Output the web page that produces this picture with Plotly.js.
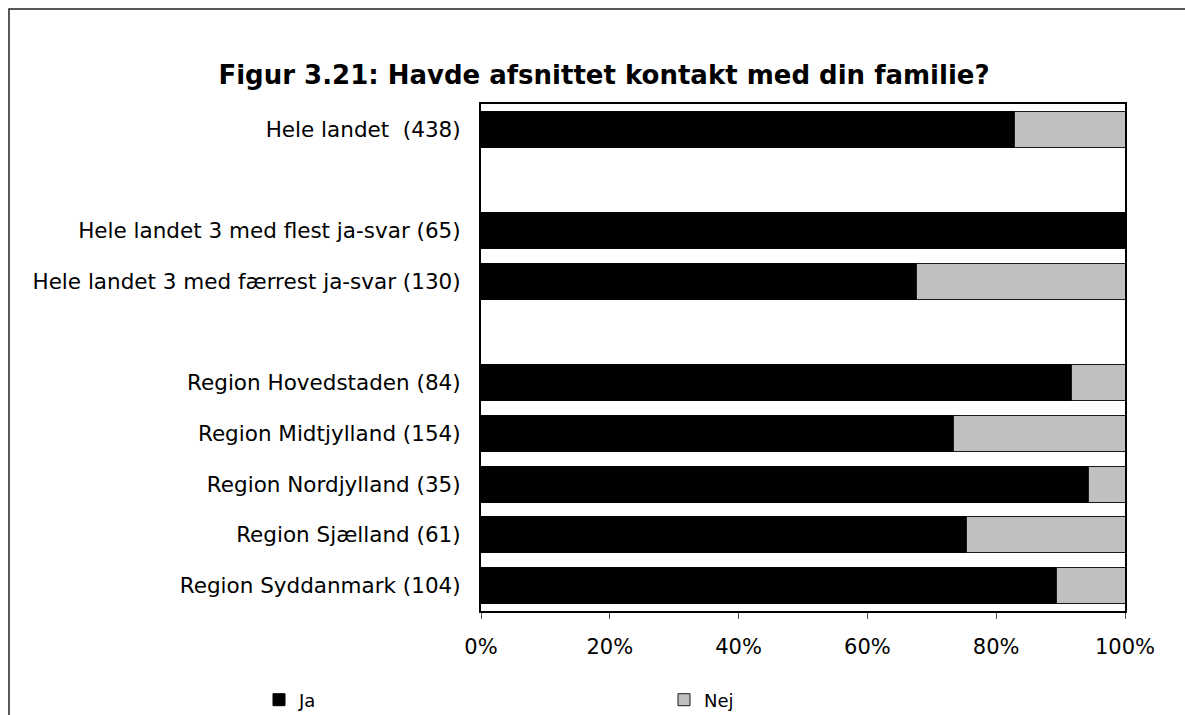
<!DOCTYPE html>
<html>
<head>
<meta charset="utf-8">
<script src="https://cdn.plot.ly/plotly-3.0.1.min.js"></script>
<style>html,body{margin:0;padding:0;background:#fff;}#chart{width:1185px;height:715px;}</style>
</head>
<body>
<div id="chart"></div>
<script>
var categories = [
  "Hele landet \u00a0(438)",
  "blank1",
  "Hele landet 3 med flest ja-svar (65)",
  "Hele landet 3 med færrest ja-svar (130)",
  "blank2",
  "Region Hovedstaden (84)",
  "Region Midtjylland (154)",
  "Region Nordjylland (35)",
  "Region Sjælland (61)",
  "Region Syddanmark (104)"
];
var yTickLabels = [
  "Hele landet \u00a0(438)",
  "Hele landet 3 med flest ja-svar (65)",
  "Hele landet 3 med færrest ja-svar (130)",
  "Region Hovedstaden (84)",
  "Region Midtjylland (154)",
  "Region Nordjylland (35)",
  "Region Sjælland (61)",
  "Region Syddanmark (104)"
];
var jaValues  = [82.9, null, 100, 67.7, null, 91.7, 73.4, 94.3, 75.4, 89.4];
var nejValues = [17.1, null, 0, 32.3, null, 8.3, 26.6, 5.7, 24.6, 10.6];
var xTickVals = [0, 20, 40, 60, 80, 100];
var xTickText = ["0%", "20%", "40%", "60%", "80%", "100%"];

var L = 481, R = 1125, T = 104, B = 611, W = 1185, H = 715;
var pw = R - L, ph = B - T;
function px2x(p){ return (p - L) / pw; }
function py2y(p){ return (B - p) / ph; }

var FONT = 'DejaVu Sans, Verdana, sans-serif';

var traces = [
  {type:'bar', orientation:'h', name:'Ja', y:categories, x:jaValues,
   marker:{color:'#000000', line:{color:'#000000', width:1}}, hoverinfo:'x+y'},
  {type:'bar', orientation:'h', name:'Nej', y:categories, x:nejValues,
   marker:{color:'#c0c0c0', line:{color:'#1a1a1a', width:1}}, hoverinfo:'x+y'}
];

var layout = {
  width:W, height:H,
  margin:{l:L, r:W-R, t:T, b:H-B, pad:0, autoexpand:false},
  paper_bgcolor:'#ffffff', plot_bgcolor:'#ffffff',
  barmode:'stack', bargap:0.29,
  font:{family:FONT, size:21, color:'#000'},
  title:{text:'Figur 3.21: Havde afsnittet kontakt med din familie?',
         font:{family:FONT, size:26, color:'#000', weight:'bold'},
         x:604/W, xanchor:'center', y:1-75/H, yanchor:'middle'},
  xaxis:{range:[0,100], tickmode:'array', tickvals:xTickVals, ticktext:xTickText,
         showgrid:false, zeroline:false, automargin:false,
         showline:true, linecolor:'#000', linewidth:2, mirror:true,
         ticks:'outside', ticklen:6, tickcolor:'#555', tickwidth:1, ticklabelstandoff:10,
         tickfont:{family:FONT, size:21}, fixedrange:true},
  yaxis:{type:'category', categoryorder:'array', categoryarray:categories,
         tickmode:'array', tickvals:yTickLabels, ticktext:yTickLabels,
         range:[9.5,-0.5], showgrid:false, zeroline:false, automargin:false,
         showline:true, linecolor:'#000', linewidth:2, mirror:true,
         ticks:'', ticklabelstandoff:14, tickfont:{family:FONT, size:21.5}, fixedrange:true},
  showlegend:true,
  legend:{orientation:'h', x:px2x(259), xanchor:'left', y:py2y(700), yanchor:'middle',
          entrywidth:360, entrywidthmode:'pixels', font:{family:FONT, size:18}, bgcolor:'rgba(0,0,0,0)',
          traceorder:'normal', itemclick:false, itemdoubleclick:false},
  shapes:[
    {type:'path', xref:'paper', yref:'paper',
     path:'M ' + px2x(9) + ' ' + py2y(H+20) + ' L ' + px2x(9) + ' ' + py2y(9) + ' L ' + px2x(W+20) + ' ' + py2y(9),
     line:{color:'#222', width:1.5}}
  ]
};

Plotly.newPlot('chart', traces, layout, {displayModeBar:false, staticPlot:true});
</script>
</body>
</html>
